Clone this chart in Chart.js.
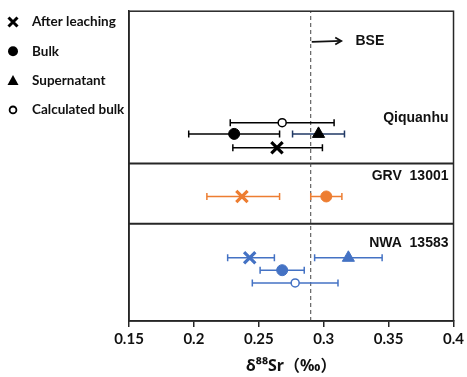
<!DOCTYPE html>
<html lang="en">
<head>
  <meta charset="UTF-8">
  <title>d88Sr</title>
  <script src="https://cdn.jsdelivr.net/npm/chart.js"></script>
  <style>
    body { margin: 0; background: #fff; }
    canvas { display: block; }
  </style>
</head>
<body>
  <canvas id="srChart" width="467" height="377"></canvas>

  <script>
    // categories
    const sampleNames = ['Qiquanhu', 'GRV  13001', 'NWA  13583'];
    const typeNames = ['After leaching', 'Bulk', 'Supernatant', 'Calculated bulk'];
    const sampleColors = ['#000000', '#ED7D31', '#4472C4'];

    // d88Sr values per sample, in typeNames order (null = not measured)
    const qiquanhuVal = [0.264, 0.231, 0.296, 0.268];
    const qiquanhuLo  = [0.230, 0.196, 0.276, 0.228];
    const qiquanhuHi  = [0.299, 0.266, 0.316, 0.308];
    const qiquanhuRow = [55.9, 60.4, 60.4, 64.0];

    const grvVal = [0.237, 0.302, null, null];
    const grvLo  = [0.210, 0.290, null, null];
    const grvHi  = [0.266, 0.314, null, null];
    const grvRow = [40.2, 40.2, null, null];

    const nwaVal = [0.243, 0.268, 0.319, 0.278];
    const nwaLo  = [0.226, 0.251, 0.293, 0.245];
    const nwaHi  = [0.262, 0.285, 0.345, 0.311];
    const nwaRow = [20.4, 16.4, 20.4, 12.3];

    // layout of the panels (row units) and the BSE reference value
    const panelLabelRows = [65.6, 46.9, 25.0];
    const panelBreaks = [50.8, 31.4];
    const bseValue = 0.29;
    const bseLabel = 'BSE';

    const xTicks = [0.15, 0.2, 0.25, 0.3, 0.35, 0.4];
    const xTickLabels = ['0.15', '0.2', '0.25', '0.3', '0.35', '0.4'];

    const sampleData = [
      { val: qiquanhuVal, lo: qiquanhuLo, hi: qiquanhuHi, row: qiquanhuRow },
      { val: grvVal, lo: grvLo, hi: grvHi, row: grvRow },
      { val: nwaVal, lo: nwaLo, hi: nwaHi, row: nwaRow }
    ];

    const markerStyle = [
      { pointStyle: 'crossRot', radius: 8, borderWidth: 3.2, fill: null },
      { pointStyle: 'circle', radius: 5.5, borderWidth: 1, fill: 'same' },
      { pointStyle: 'triangle', radius: 7, borderWidth: 1, fill: 'same' },
      { pointStyle: 'circle', radius: 4, borderWidth: 1.5, fill: '#ffffff' }
    ];

    const datasets = [];

    // panel separators
    panelBreaks.forEach(function (r) {
      datasets.push({
        data: [{ x: xTicks[0], y: r }, { x: xTicks[xTicks.length - 1], y: r }],
        showLine: true, pointRadius: 0, borderColor: '#262626', borderWidth: 2, order: 5
      });
    });

    // BSE dashed line
    datasets.push({
      data: [{ x: bseValue, y: 0 }, { x: bseValue, y: 100 }],
      showLine: true, pointRadius: 0, borderColor: '#444', borderWidth: 1,
      borderDash: [4, 3], order: 4
    });

    sampleData.forEach(function (s, si) {
      s.val.forEach(function (v, ti) {
        if (v === null) return;
        let barColor = sampleColors[si];
        if (si === 0 && ti === 2) barColor = '#203864';
        // error bar
        datasets.push({
          data: [{ x: s.lo[ti], y: s.row[ti] }, { x: s.hi[ti], y: s.row[ti] }],
          showLine: true, borderColor: barColor, borderWidth: 1.5,
          pointStyle: 'line', rotation: 90, pointRadius: 3.5,
          pointBorderColor: barColor, pointBorderWidth: 1.5, order: 2
        });
        // marker
        const m = markerStyle[ti];
        datasets.push({
          data: [{ x: v, y: s.row[ti] }],
          pointStyle: m.pointStyle, pointRadius: m.radius,
          pointBorderWidth: m.borderWidth,
          pointBorderColor: sampleColors[si],
          pointBackgroundColor: m.fill === 'same' ? sampleColors[si] : (m.fill || sampleColors[si]),
          order: 1
        });
      });
    });

    const annotations = {
      id: 'annotations',
      afterDatasetsDraw(chart) {
        const ctx = chart.ctx;
        const xs = chart.scales.x;
        const ys = chart.scales.y;
        const area = chart.chartArea;
        ctx.save();

        // frame
        ctx.strokeStyle = '#262626';
        ctx.lineWidth = 1.5;
        ctx.strokeRect(area.left, area.top, area.right - area.left, area.bottom - area.top);

        // panel labels
        ctx.fillStyle = '#111';
        ctx.font = 'bold 14px "Liberation Sans", Arial, sans-serif';
        ctx.textAlign = 'right';
        ctx.textBaseline = 'middle';
        sampleNames.forEach(function (n, i) {
          ctx.fillText(n, area.right - 5, ys.getPixelForValue(panelLabelRows[i]));
        });

        // BSE arrow
        const ay = ys.getPixelForValue(90.4);
        const ax0 = xs.getPixelForValue(bseValue) + 1;
        const ax1 = xs.getPixelForValue(0.3135);
        ctx.strokeStyle = '#111';
        ctx.lineWidth = 1.8;
        ctx.beginPath();
        ctx.moveTo(ax0, ay + 1);
        ctx.lineTo(ax1, ay);
        ctx.stroke();
        ctx.beginPath();
        ctx.moveTo(ax1 - 6, ay - 3.5);
        ctx.lineTo(ax1, ay);
        ctx.lineTo(ax1 - 6, ay + 3.5);
        ctx.stroke();
        ctx.textAlign = 'left';
        ctx.font = 'bold 14px "Liberation Sans", Arial, sans-serif';
        ctx.fillText(bseLabel, xs.getPixelForValue(0.3245), ay);

        // legend
        ctx.font = 'bold 13.5px Lato, "Liberation Sans", sans-serif';
        typeNames.forEach(function (n, i) {
          const ly = 22 + i * 29.3;
          const lx = 13;
          ctx.fillStyle = '#000';
          ctx.strokeStyle = '#000';
          if (i === 0) {
            ctx.lineWidth = 3;
            ctx.beginPath();
            ctx.moveTo(lx - 4.5, ly - 4.5); ctx.lineTo(lx + 4.5, ly + 4.5);
            ctx.moveTo(lx + 4.5, ly - 4.5); ctx.lineTo(lx - 4.5, ly + 4.5);
            ctx.stroke();
          } else if (i === 1) {
            ctx.beginPath(); ctx.arc(lx, ly, 5, 0, Math.PI * 2); ctx.fill();
          } else if (i === 2) {
            ctx.beginPath();
            ctx.moveTo(lx, ly - 5.5); ctx.lineTo(lx + 5.5, ly + 4.5); ctx.lineTo(lx - 5.5, ly + 4.5);
            ctx.closePath(); ctx.fill();
          } else {
            ctx.lineWidth = 1.8;
            ctx.beginPath(); ctx.arc(lx, ly, 3.4, 0, Math.PI * 2); ctx.stroke();
          }
          ctx.fillStyle = '#111';
          ctx.fillText(n, 32, ly);
        });
        ctx.restore();
      }
    };

    new Chart(document.getElementById('srChart'), {
      type: 'scatter',
      data: { datasets: datasets },
      options: {
        responsive: false,
        animation: false,
        layout: { padding: { top: 10, right: 11, left: 0, bottom: 0 } },
        plugins: { legend: { display: false }, tooltip: { enabled: false } },
        scales: {
          x: {
            type: 'linear', min: 0.15, max: 0.4,
            afterBuildTicks: function (s) { s.ticks = xTicks.map(function (v) { return { value: v }; }); },
            afterFit: function (s) { s.height = 56; },
            ticks: {
              color: '#111', padding: 3,
              font: { family: 'Lato', weight: 'bold', size: 15 },
              callback: function (v, i) { return xTickLabels[i]; }
            },
            grid: { drawOnChartArea: false, drawTicks: true, tickLength: 6, color: '#262626', lineWidth: 1.5 },
            border: { display: true, color: '#262626', width: 1.5 },
            title: {
              display: true, text: 'δ⁸⁸Sr（‰）', color: '#111',
              font: { family: '"Noto Sans", "Noto Sans CJK SC"', weight: 'bold', size: 16 },
              padding: { top: 0, bottom: 1 }
            }
          },
          y: {
            type: 'linear', min: 0, max: 100,
            afterFit: function (s) { s.width = 129; },
            ticks: { display: false },
            grid: { display: false },
            border: { display: true, color: '#262626', width: 1.5 }
          }
        }
      },
      plugins: [annotations]
    });
  </script>
</body>
</html>
